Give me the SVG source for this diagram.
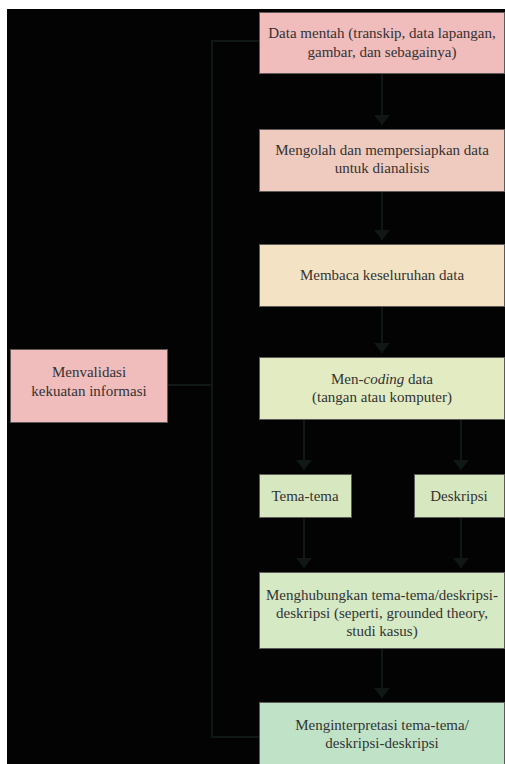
<svg xmlns="http://www.w3.org/2000/svg" width="505" height="764" viewBox="0 0 505 764">
<defs>
<style>
.box{stroke:#5e5a58;stroke-width:1}
.t{font-size:15px;fill:#333;text-anchor:middle}
.c{fill:none;stroke:#0f1814;stroke-width:2}
</style>
<marker id="ad" viewBox="0 0 10 16" refX="10" refY="8" markerWidth="10" markerHeight="16" markerUnits="userSpaceOnUse" orient="auto">
<path d="M0,0 L10,8 L0,16 Z" fill="#0f1814"/>
</marker>
</defs>
<rect x="0" y="0" width="505" height="764" fill="#ffffff"/>
<rect x="7" y="9" width="498" height="755" fill="#030303"/>
<g id="connectors">
<path class="c" d="M259,41 H212 V737 H259"/>
<path class="c" d="M167,385 H212"/>
<path class="c" d="M382,74 V125" marker-end="url(#ad)"/>
<path class="c" d="M382,192 V240" marker-end="url(#ad)"/>
<path class="c" d="M382,307 V353" marker-end="url(#ad)"/>
<path class="c" d="M304,420 V470" marker-end="url(#ad)"/>
<path class="c" d="M461,420 V470" marker-end="url(#ad)"/>
<path class="c" d="M304,518 V568" marker-end="url(#ad)"/>
<path class="c" d="M461,518 V568" marker-end="url(#ad)"/>
<path class="c" d="M382,649 V698" marker-end="url(#ad)"/>
</g>
<g id="nodes" font-family="Liberation Serif, DejaVu Serif, serif">
<g id="n1"><rect class="box" x="259.5" y="12.5" width="245" height="61" fill="#f0bcbc"/>
<text class="t" x="382" y="38" font-family="Liberation Serif, serif">Data mentah (transkip, data lapangan,</text>
<text class="t" x="382" y="57" font-family="Liberation Serif, serif">gambar, dan sebagainya)</text></g>
<g id="n2"><rect class="box" x="259.5" y="129.5" width="245" height="62" fill="#efcabe"/>
<text class="t" x="382" y="155" font-family="Liberation Serif, serif">Mengolah dan mempersiapkan data</text>
<text class="t" x="382" y="173" font-family="Liberation Serif, serif">untuk dianalisis</text></g>
<g id="n3"><rect class="box" x="259.5" y="244.5" width="245" height="62" fill="#f3e3c4"/>
<text class="t" x="382" y="280" font-family="Liberation Serif, serif">Membaca keseluruhan data</text></g>
<g id="n4"><rect class="box" x="259.5" y="357.5" width="245" height="62" fill="#e2ebc2"/>
<text class="t" x="382" y="384" font-family="Liberation Serif, serif">Men-<tspan font-style="italic">coding</tspan> data</text>
<text class="t" x="382" y="402" font-family="Liberation Serif, serif">(tangan atau komputer)</text></g>
<g id="n5"><rect class="box" x="259.5" y="474.5" width="92" height="43" fill="#d7e8c1"/>
<text class="t" x="305" y="501" font-family="Liberation Serif, serif">Tema-tema</text></g>
<g id="n6"><rect class="box" x="414.5" y="474.5" width="90" height="43" fill="#d7e8c1"/>
<text class="t" x="459" y="501" font-family="Liberation Serif, serif">Deskripsi</text></g>
<g id="n7"><rect class="box" x="259.5" y="572.5" width="245" height="76" fill="#d4e9c4"/>
<text class="t" x="382" y="600" font-family="Liberation Serif, serif">Menghubungkan tema-tema/deskripsi-</text>
<text class="t" x="382" y="618" font-family="Liberation Serif, serif">deskripsi (seperti, grounded theory,</text>
<text class="t" x="382" y="636" font-family="Liberation Serif, serif">studi kasus)</text></g>
<g id="n8"><rect class="box" x="259.5" y="702.5" width="245" height="70" fill="#c0e3c8"/>
<text class="t" x="382" y="730" font-family="Liberation Serif, serif">Menginterpretasi tema-tema/</text>
<text class="t" x="382" y="748" font-family="Liberation Serif, serif">deskripsi-deskripsi</text></g>
<g id="n9"><rect class="box" x="10.5" y="349.5" width="157" height="73" fill="#f0bcbc"/>
<text class="t" x="89" y="377" font-family="Liberation Serif, serif">Menvalidasi</text>
<text class="t" x="89" y="396" font-family="Liberation Serif, serif">kekuatan informasi</text></g>
</g>
</svg>
